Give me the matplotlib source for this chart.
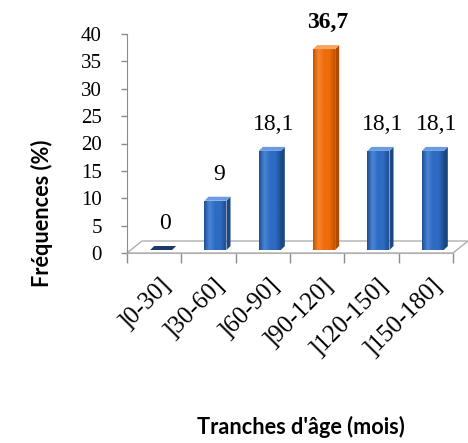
import numpy as np
import matplotlib
matplotlib.use("Agg")
import matplotlib.pyplot as plt
import matplotlib.transforms as mtransforms
from matplotlib.patches import Polygon, Rectangle
from matplotlib.colors import LinearSegmentedColormap

# Data
categories = [']0-30]', ']30-60]', ']60-90]', ']90-120]', ']120-150]', ']150-180]']
frequencies = [0, 9, 18.1, 36.7, 18.1, 18.1]
value_labels = ['0', '9', '18,1', '36,7', '18,1', '18,1']
highlight = ']90-120]'
y_ticks = [0, 5, 10, 15, 20, 25, 30, 35, 40]

W, H = 468, 443
fig = plt.figure(figsize=(W / 100, H / 100), dpi=100)
fig.patch.set_facecolor('white')

ax_left, ax_right, ax_bottom, ax_top = 127, 453, 253, 34
ax = fig.add_axes([ax_left / W, 1 - ax_bottom / H,
                   (ax_right - ax_left) / W, (ax_bottom - ax_top) / H])
n = len(categories)
ax.set_xlim(-0.5, n - 0.5)
ax.set_ylim(y_ticks[0], y_ticks[-1])
ax.set_facecolor('none')

# pixel -> data conversion for the pseudo 3D offsets
px_x = n / (ax_right - ax_left)
px_y = (y_ticks[-1] - y_ticks[0]) / (ax_bottom - ax_top)

serif = ['Liberation Serif', 'DejaVu Serif']
sans = ['Lato', 'DejaVu Sans']
axis_grey = '#8c8c8c'

# floor of the 3D plot
fd_x, fd_y = 15 * px_x, 12 * px_y
floor = Polygon([(-0.5, 0), (n - 0.5, 0), (n - 0.5 + fd_x, fd_y), (-0.5 + fd_x, fd_y)],
                closed=True, facecolor='white', edgecolor='#b0b0b0', lw=1.0,
                clip_on=False, zorder=1)
ax.add_patch(floor)

# bar geometry
off_x, off_y = 7 * px_x, 3 * px_y
bw = 22 * px_x
dep_x, dep_y = 4 * px_x, 4 * px_y

palette = {
    'blue': dict(dark='#1f4f93', base='#2e6bc2', light='#4a86d6', side='#1c4783', top='#6b9be0', flat='#1d3a6b'),
    'orange': dict(dark='#c65300', base='#ee6c0c', light='#f7862c', side='#b04a00', top='#f8a35c', flat='#8a3a00'),
}

for i, (cat, v) in enumerate(zip(categories, frequencies)):
    c = palette['orange' if cat == highlight else 'blue']
    x0 = i + off_x - bw / 2
    yb = off_y
    yt = off_y + v
    if v > 0:
        front = Rectangle((x0, yb), bw, v, facecolor=c['base'], edgecolor='none', zorder=3)
        ax.add_patch(front)
        cmap = LinearSegmentedColormap.from_list('g', [c['dark'], c['light'], c['base'], c['base'], c['dark']])
        grad = np.linspace(0, 1, 64)[None, :]
        im = ax.imshow(grad, extent=[x0, x0 + bw, yb, yt], aspect='auto', cmap=cmap,
                       origin='lower', zorder=3, interpolation='bilinear')
        im.set_clip_path(front)
        side = Polygon([(x0 + bw, yb), (x0 + bw + dep_x, yb + dep_y),
                        (x0 + bw + dep_x, yt + dep_y), (x0 + bw, yt)],
                       closed=True, facecolor=c['side'], edgecolor='none', zorder=3)
        ax.add_patch(side)
    top_col = c['top'] if v > 0 else c['flat']
    top = Polygon([(x0, yt), (x0 + bw, yt), (x0 + bw + dep_x, yt + dep_y), (x0 + dep_x, yt + dep_y)],
                  closed=True, facecolor=top_col, edgecolor='none', zorder=4)
    ax.add_patch(top)

    # value label above the bar
    ax.annotate(value_labels[i], xy=(i + off_x + 4 * px_x, yt), xytext=(0, 15),
                textcoords='offset points', ha='center', va='baseline',
                fontsize=17, family=serif, color='black',
                fontweight='bold' if cat == highlight else 'normal',
                annotation_clip=False, zorder=5)

# axes styling
for s in ['top', 'right']:
    ax.spines[s].set_visible(False)
ax.spines['left'].set_color(axis_grey)
ax.spines['bottom'].set_color('#b0b0b0')
ax.spines['left'].set_zorder(2)

ax.set_yticks(y_ticks)
ax.set_yticklabels([str(t) for t in y_ticks], family=serif, fontsize=15)
ax.tick_params(axis='y', direction='out', length=4, width=1, color=axis_grey, pad=14)

ax.set_xticks(np.arange(-0.5, n, 1.0))
ax.set_xticklabels([])
ax.tick_params(axis='x', direction='out', length=7, width=1, color=axis_grey)

# rotated category labels
lab_tr = ax.transData + mtransforms.ScaledTranslation(5 / 100, -21 / 100, fig.dpi_scale_trans)
for i, cat in enumerate(categories):
    ax.text(i, 0, cat, transform=lab_tr, rotation=45, rotation_mode='anchor',
            ha='right', va='top', family=serif, fontsize=18)

fig.text(42 / W, 1 - 213 / H, 'Fréquences (%)', rotation=90, ha='center', va='center',
         family=sans, fontweight='bold', fontsize=15.6)
fig.text(197 / W, 1 - 416 / H, "Tranches d'âge (mois)", ha='left', va='top',
         family=sans, fontweight='bold', fontsize=15.6)

fig.savefig('out.png', dpi=100, facecolor='white')
